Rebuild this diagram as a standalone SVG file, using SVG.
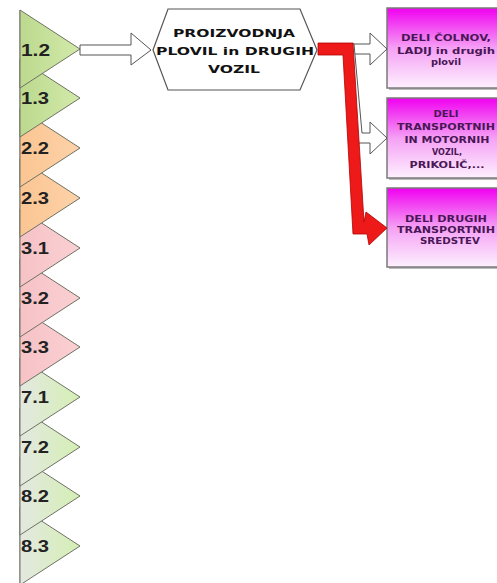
<svg xmlns="http://www.w3.org/2000/svg" width="497" height="583" viewBox="0 0 497 583">
<defs>
<linearGradient id="gGreen" x1="0" y1="0" x2="1" y2="0"><stop offset="0" stop-color="#bcd98e"/><stop offset="1" stop-color="#d2eaaa"/></linearGradient>
<linearGradient id="gOrange" x1="0" y1="0" x2="1" y2="0"><stop offset="0" stop-color="#fbc592"/><stop offset="1" stop-color="#fdd2a9"/></linearGradient>
<linearGradient id="gPink" x1="0" y1="0" x2="1" y2="0"><stop offset="0" stop-color="#f6c2c6"/><stop offset="1" stop-color="#fad0d3"/></linearGradient>
<linearGradient id="gPale" x1="0" y1="0" x2="1" y2="0"><stop offset="0" stop-color="#e4e8e0"/><stop offset="1" stop-color="#d4efb4"/></linearGradient>
<linearGradient id="gMag" x1="0" y1="0" x2="0" y2="1"><stop offset="0" stop-color="#f000f0"/><stop offset="0.5" stop-color="#f5a0f5"/><stop offset="1" stop-color="#fdf0fd"/></linearGradient>
</defs>
<style>
.chev{stroke:#6e7264;stroke-width:1}
.num{font-family:"Liberation Sans",Arial,sans-serif;font-weight:bold;font-size:17px;fill:#222}
.hex{fill:#fff;stroke:#555;stroke-width:1.2}
.htxt{font-family:"DejaVu Sans",Verdana,sans-serif;font-weight:bold;font-size:11px;fill:#111;text-anchor:middle}
.box{fill:url(#gMag);stroke:#7a7a7a;stroke-width:1.5}
.shadow{fill:#bbb}
.btxt{font-family:"DejaVu Sans",Verdana,sans-serif;font-weight:bold;font-size:8.5px;fill:#4a1656;text-anchor:middle}
.warrow{fill:#fff;stroke:#555;stroke-width:1}
.rarrow{fill:#ee1a1a;stroke:#b00000;stroke-width:0.8}
</style>
<line x1="20" y1="10" x2="20" y2="583" stroke="#888" stroke-width="1.2"/>
<g id="n83"><polygon class="chev" fill="url(#gPale)" points="20,507 80,546 20,585"/><text class="num" x="21" y="552" textLength="28" lengthAdjust="spacingAndGlyphs">8.3</text></g>
<g id="n82"><polygon class="chev" fill="url(#gPale)" points="20,457 80,496 20,535"/><text class="num" x="21" y="502" textLength="28" lengthAdjust="spacingAndGlyphs">8.2</text></g>
<g id="n72"><polygon class="chev" fill="url(#gPale)" points="20,408 80,447 20,486"/><text class="num" x="21" y="453" textLength="28" lengthAdjust="spacingAndGlyphs">7.2</text></g>
<g id="n71"><polygon class="chev" fill="url(#gPale)" points="20,358 80,397 20,436"/><text class="num" x="21" y="403" textLength="28" lengthAdjust="spacingAndGlyphs">7.1</text></g>
<g id="n33"><polygon class="chev" fill="url(#gPink)" points="20,308 80,347 20,386"/><text class="num" x="21" y="353" textLength="28" lengthAdjust="spacingAndGlyphs">3.3</text></g>
<g id="n32"><polygon class="chev" fill="url(#gPink)" points="20,259 80,298 20,337"/><text class="num" x="21" y="304" textLength="28" lengthAdjust="spacingAndGlyphs">3.2</text></g>
<g id="n31"><polygon class="chev" fill="url(#gPink)" points="20,209 80,248 20,287"/><text class="num" x="21" y="254" textLength="28" lengthAdjust="spacingAndGlyphs">3.1</text></g>
<g id="n23"><polygon class="chev" fill="url(#gOrange)" points="20,159 80,198 20,237"/><text class="num" x="21" y="204" textLength="28" lengthAdjust="spacingAndGlyphs">2.3</text></g>
<g id="n22"><polygon class="chev" fill="url(#gOrange)" points="20,109 80,148 20,187"/><text class="num" x="21" y="154" textLength="28" lengthAdjust="spacingAndGlyphs">2.2</text></g>
<g id="n13"><polygon class="chev" fill="url(#gGreen)" points="20,59 80,98 20,137"/><text class="num" x="21" y="104" textLength="28" lengthAdjust="spacingAndGlyphs">1.3</text></g>
<g id="n12"><polygon class="chev" fill="url(#gGreen)" points="20,10 80,49 20,88"/><text class="num" x="21" y="56" textLength="29" lengthAdjust="spacingAndGlyphs">1.2</text></g>

<g id="main">
<polygon class="hex" points="153,50 168,9 300,9 317,50 300,90 168,90"/>
<text class="htxt" x="234" y="37" textLength="122" lengthAdjust="spacingAndGlyphs">PROIZVODNJA</text>
<text class="htxt" x="235" y="55" textLength="158" lengthAdjust="spacingAndGlyphs">PLOVIL in DRUGIH</text>
<text class="htxt" x="234" y="73" textLength="52" lengthAdjust="spacingAndGlyphs">VOZIL</text>
</g>

<g id="box1">
<rect class="shadow" x="389" y="10" width="115" height="80"/>
<rect class="box" x="387" y="8" width="115" height="80"/>
<text class="btxt" x="446" y="41" textLength="90" lengthAdjust="spacingAndGlyphs">DELI ČOLNOV,</text>
<text class="btxt" x="446" y="54" textLength="98" lengthAdjust="spacingAndGlyphs">LADIJ in drugih</text>
<text class="btxt" x="446" y="65" textLength="30" lengthAdjust="spacingAndGlyphs">plovil</text>
</g>
<g id="box2">
<rect class="shadow" x="389" y="100" width="115" height="80"/>
<rect class="box" x="387" y="98" width="115" height="80"/>
<text class="btxt" x="446" y="117" textLength="25" lengthAdjust="spacingAndGlyphs">DELI</text>
<text class="btxt" x="446" y="130" textLength="98" lengthAdjust="spacingAndGlyphs">TRANSPORTNIH</text>
<text class="btxt" x="447" y="143" textLength="85" lengthAdjust="spacingAndGlyphs">IN MOTORNIH</text>
<text class="btxt" x="447" y="155" textLength="30" lengthAdjust="spacingAndGlyphs">VOZIL,</text>
<text class="btxt" x="447" y="168" textLength="75" lengthAdjust="spacingAndGlyphs">PRIKOLIČ,...</text>
</g>
<g id="box3">
<rect class="shadow" x="389" y="190" width="115" height="79"/>
<rect class="box" x="387" y="188" width="115" height="79"/>
<text class="btxt" x="446" y="222" textLength="82" lengthAdjust="spacingAndGlyphs">DELI DRUGIH</text>
<text class="btxt" x="446" y="233" textLength="98" lengthAdjust="spacingAndGlyphs">TRANSPORTNIH</text>
<text class="btxt" x="450" y="244" textLength="60" lengthAdjust="spacingAndGlyphs">SREDSTEV</text>
</g>

<g id="connectors">
<polygon class="warrow" points="80,45 131,45 131,33 151,50 131,65 131,55 80,55"/>
<polygon class="warrow" points="340,44 354,44 370,44 370,33 387,49 370,65 370,54 340,54"/>
<polygon class="warrow" points="340,44 354,44 362,133 370,133 370,122 387,138 370,154 370,143 352,143 345,54 340,54"/>
<polygon class="rarrow" points="318,43 353,43 364,222 366,212 387,228 369,245 367,234 353,234 343,55 318,55"/>
</g>
</svg>
